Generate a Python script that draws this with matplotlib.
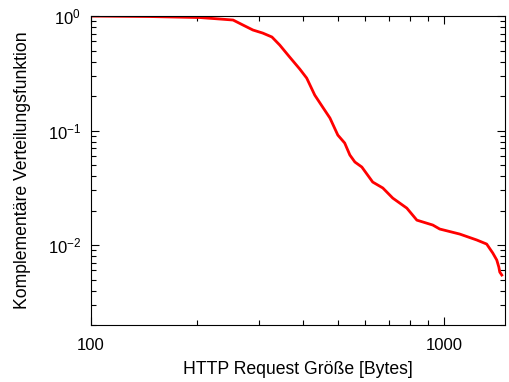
import matplotlib
matplotlib.use("Agg")
import matplotlib.pyplot as plt
from matplotlib.ticker import LogLocator, NullFormatter, FixedLocator, FixedFormatter

plt.rcParams['font.family'] = ['Liberation Sans', 'DejaVu Sans']
plt.rcParams['mathtext.fontset'] = 'custom'
plt.rcParams['mathtext.rm'] = 'Liberation Sans'
plt.rcParams['mathtext.it'] = 'Liberation Sans:italic'

# request size in bytes / complementary CDF
groesse = [100, 147, 204, 232, 253, 270, 288, 307, 326, 343, 366, 391, 409,
           431, 454, 476, 501, 524, 542, 560, 586, 629, 672, 717, 786, 839,
           931, 974, 1110, 1241, 1323, 1377, 1413, 1432, 1441, 1460]
ccdf = [1.0, 0.99, 0.97, 0.942, 0.923, 0.834, 0.755, 0.710, 0.656, 0.558,
        0.438, 0.344, 0.287, 0.204, 0.160, 0.1285, 0.0913, 0.0778, 0.0611,
        0.0531, 0.0480, 0.0355, 0.0315, 0.0257, 0.0210, 0.0165, 0.01495,
        0.0138, 0.01247, 0.01106, 0.0102, 0.00851, 0.0074, 0.00643, 0.00581,
        0.00547]

fig = plt.figure(figsize=(5.1, 3.82), dpi=100)
ax = fig.add_axes([0.178, 0.149, 0.812, 0.809])
ax.plot(groesse, ccdf, color='red', linewidth=2)

ax.set_xscale('log')
ax.set_yscale('log')
ax.set_xlim(100, 1490)
ax.set_ylim(0.002, 1)

ax.xaxis.set_major_locator(FixedLocator([100, 1000]))
ax.xaxis.set_major_formatter(FixedFormatter(['100', '1000']))
ax.xaxis.set_minor_locator(LogLocator(base=10, subs=range(2, 10)))
ax.xaxis.set_minor_formatter(NullFormatter())
ax.yaxis.set_minor_locator(LogLocator(base=10, subs=range(2, 10)))
ax.yaxis.set_minor_formatter(NullFormatter())

ax.tick_params(which='both', direction='in', top=True, right=True, labelsize=12)
ax.tick_params(which='major', length=6, width=0.8)
ax.tick_params(which='minor', length=3.5, width=0.8)
ax.tick_params(axis='x', pad=9)
ax.tick_params(axis='y', pad=7)

ax.set_xlabel('HTTP Request Größe [Bytes]', fontsize=12.7, labelpad=6)
ax.set_ylabel('Komplementäre Verteilungsfunktion', fontsize=12.7, labelpad=12)

fig.savefig('out.png', dpi=100)
